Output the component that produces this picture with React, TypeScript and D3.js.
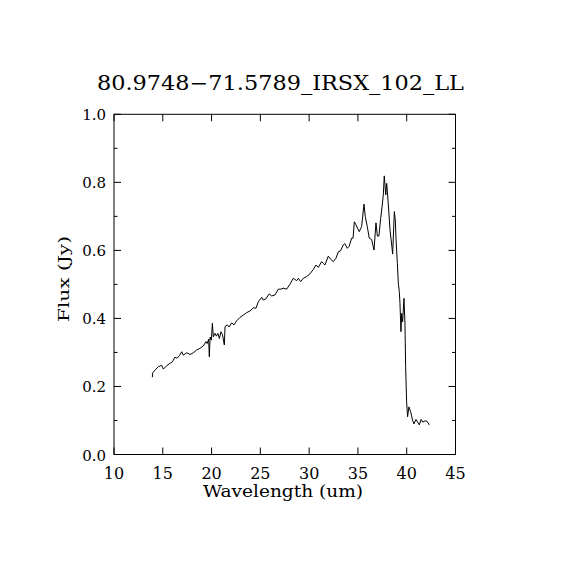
import React from "react";
import * as d3 from "d3";

const wavelength = [
  13.93, 13.95, 14.2, 14.54, 14.89, 15.06, 15.4, 15.74, 16.0, 16.25, 16.45, 16.7, 16.94, 17.1,
  17.45, 17.79, 18.13, 18.47, 18.81, 19.15, 19.43, 19.55, 19.7, 19.77, 19.85, 19.98, 20.08,
  20.18, 20.35, 20.5, 20.65, 20.8, 20.97, 21.12, 21.31, 21.38, 21.61, 21.8, 22.06, 22.3,
  22.57, 22.91, 23.25, 23.6, 23.94, 24.28, 24.55, 24.79, 25.14, 25.3, 25.55, 25.9, 26.16,
  26.5, 26.84, 27.1, 27.35, 27.7, 28.04, 28.38, 28.72, 28.9, 29.13, 29.4, 29.74, 30.08,
  30.43, 30.7, 30.94, 31.28, 31.45, 31.62, 31.96, 32.2, 32.48, 32.75, 32.99, 33.2, 33.5,
  33.65, 33.91, 34.1, 34.36, 34.5, 34.63, 34.8, 35.14, 35.38, 35.62, 35.75, 35.96, 36.16,
  36.4, 36.65, 36.85, 36.99, 37.15, 37.33, 37.47, 37.6, 37.7, 37.85, 37.95, 38.12, 38.29,
  38.46, 38.56, 38.73, 38.83, 38.9, 39.04, 39.14, 39.24, 39.31, 39.41, 39.48, 39.58, 39.72,
  39.82, 39.89, 39.99, 40.09, 40.23, 40.4, 40.6, 40.74, 40.95, 41.12, 41.29, 41.47, 41.65,
  41.88, 42.1, 42.31,
];

const flux = [
  0.227, 0.239, 0.248, 0.258, 0.262, 0.251, 0.261, 0.268, 0.273, 0.286, 0.283, 0.29, 0.302,
  0.292, 0.299, 0.294, 0.299, 0.307, 0.312, 0.319, 0.332, 0.326, 0.339, 0.287, 0.345, 0.336,
  0.386, 0.346, 0.356, 0.348, 0.356, 0.341, 0.361, 0.352, 0.322, 0.376, 0.381, 0.375, 0.387,
  0.381, 0.393, 0.403, 0.41, 0.417, 0.422, 0.431, 0.43, 0.449, 0.462, 0.454, 0.457, 0.472,
  0.466, 0.469, 0.486, 0.486, 0.489, 0.486, 0.501, 0.518, 0.511, 0.518, 0.508, 0.518, 0.523,
  0.531, 0.544, 0.557, 0.55, 0.567, 0.562, 0.557, 0.583, 0.574, 0.567, 0.577, 0.596, 0.598,
  0.616, 0.62, 0.606, 0.612, 0.636, 0.636, 0.684, 0.675, 0.655, 0.67, 0.736, 0.7, 0.67, 0.636,
  0.632, 0.601, 0.681, 0.642, 0.642, 0.694, 0.728, 0.763, 0.819, 0.763, 0.797, 0.733, 0.66,
  0.616, 0.589, 0.714, 0.689, 0.636, 0.562, 0.503, 0.479, 0.444, 0.361, 0.415, 0.39, 0.459,
  0.386, 0.258, 0.155, 0.111, 0.14, 0.126, 0.101, 0.09, 0.103, 0.095, 0.087, 0.103, 0.095,
  0.099, 0.097, 0.087,
];

const xTicks = [10, 15, 20, 25, 30, 35, 40, 45];
const yMajorTicks = [0, 0.2, 0.4, 0.6, 0.8, 1.0];
const yMinorTicks = [0.1, 0.3, 0.5, 0.7, 0.9];
const title = "80.9748\u221271.5789_IRSX_102_LL";

export default function App() {
  const W = 570;
  const H = 570;
  const left = 114;
  const right = 455.5;
  const top = 114.3;
  const bottom = 454.5;
  const x = d3.scaleLinear().domain([10, 45]).range([left, right]);
  const y = d3.scaleLinear().domain([0, 1]).range([bottom, top]);
  const pts: [number, number][] = wavelength.map((w, i) => [w, flux[i]]);
  const line = d3
    .line<[number, number]>()
    .x((d) => x(d[0]))
    .y((d) => y(d[1]));
  const font = "'DejaVu Serif', serif";
  const major = 7;
  const minor = 3.5;
  return (
    <svg
      width={W}
      height={H}
      style={{ position: "absolute", left: 0, top: 0, background: "#fff" }}
    >
      <rect x={0} y={0} width={W} height={H} fill="#fff" />
      <text
        x={280.5}
        y={89.5}
        textAnchor="middle"
        fontFamily={font}
        fontSize={20}
        textLength={367}
        lengthAdjust="spacingAndGlyphs"
        fill="#000"
      >
        {title}
      </text>
      <rect
        x={left}
        y={top}
        width={right - left}
        height={bottom - top}
        fill="none"
        stroke="#000"
        strokeWidth={1}
      />
      {xTicks.map((t) => (
        <g key={"x" + t}>
          <line x1={x(t)} x2={x(t)} y1={bottom} y2={bottom - major} stroke="#000" />
          <line x1={x(t)} x2={x(t)} y1={top} y2={top + major} stroke="#000" />
          <text
            x={x(t)}
            y={479}
            textAnchor="middle"
            fontFamily={font}
            fontSize={16}
            fill="#000"
          >
            {t}
          </text>
        </g>
      ))}
      {yMajorTicks.map((t) => (
        <g key={"y" + t}>
          <line x1={left} x2={left + major} y1={y(t)} y2={y(t)} stroke="#000" />
          <line x1={right} x2={right - major} y1={y(t)} y2={y(t)} stroke="#000" />
          <text
            x={106}
            y={y(t) + 6}
            textAnchor="end"
            fontFamily={font}
            fontSize={15}
            fill="#000"
          >
            {t.toFixed(1)}
          </text>
        </g>
      ))}
      {yMinorTicks.map((t) => (
        <g key={"ym" + t}>
          <line x1={left} x2={left + minor} y1={y(t)} y2={y(t)} stroke="#000" />
          <line x1={right} x2={right - minor} y1={y(t)} y2={y(t)} stroke="#000" />
        </g>
      ))}
      <path d={line(pts) || ""} fill="none" stroke="#000" strokeWidth={1} />
      <text
        x={283}
        y={497}
        textAnchor="middle"
        fontFamily={font}
        fontSize={16}
        textLength={160}
        lengthAdjust="spacingAndGlyphs"
        fill="#000"
      >
        Wavelength (um)
      </text>
      <text
        transform={`translate(68.5, 279) rotate(-90)`}
        textAnchor="middle"
        fontFamily={font}
        fontSize={15}
        textLength={86}
        lengthAdjust="spacingAndGlyphs"
        fill="#000"
      >
        Flux (Jy)
      </text>
    </svg>
  );
}
